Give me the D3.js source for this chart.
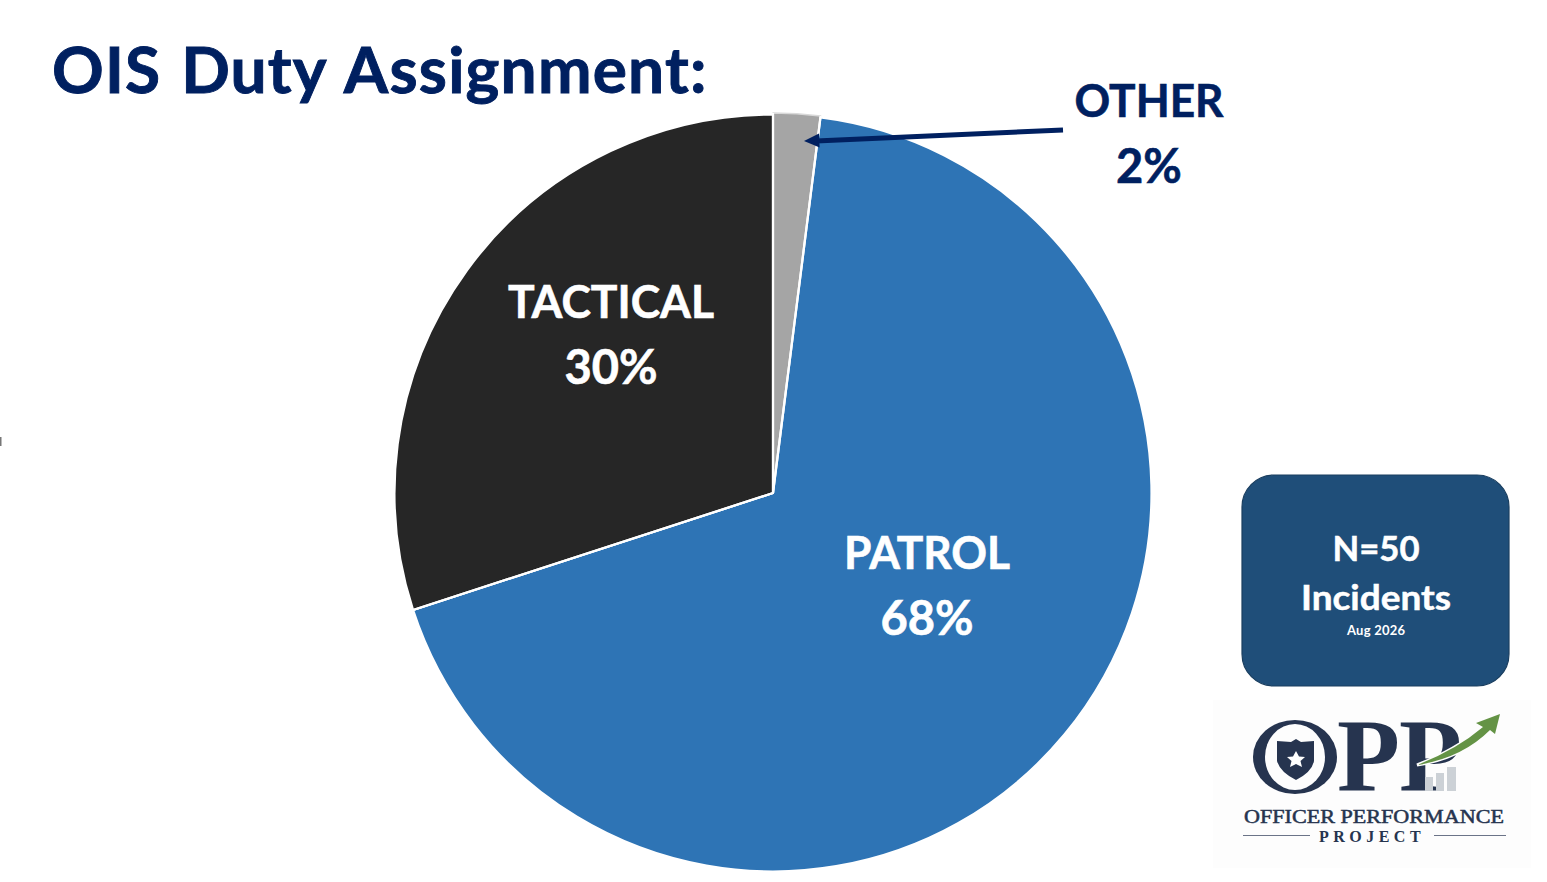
<!DOCTYPE html>
<html><head><meta charset="utf-8">
<script src="https://cdnjs.cloudflare.com/ajax/libs/d3/7.8.5/d3.min.js"></script>
<style>html,body{margin:0;padding:0;background:#fff;overflow:hidden}svg{display:block}
text{font-family:Lato,"Open Sans",sans-serif}</style></head><body>
<script>
const categories = ["OTHER","PATROL","TACTICAL"];
const percents = [2,68,30];
const colors = ["#a5a5a5","#2e74b5","#262626"];
const titleText = "OIS Duty Assignment:";
const noteLines = ["N=50","Incidents"];
const noteDate = "Aug 2026";

const W=1547,H=882,cx=773,cy=493,R=378;
const navy="#002060";
const svg=d3.select("body").append("svg").attr("width",W).attr("height",H);
svg.append("text").attr("x",52).attr("y",93).attr("font-size",64).attr("font-weight",700).attr("fill",navy)
 .attr("stroke",navy).attr("stroke-width",0.9).attr("letter-spacing",1.2).attr("word-spacing",3).text(titleText);

const pie=d3.pie().sort(null).value(d=>d)(percents);
const arc=d3.arc().innerRadius(0).outerRadius((d,i)=>d.index===0?R+2:R+0.5);
const g=svg.append("g").attr("transform",`translate(${cx},${cy})`);
g.selectAll("path").data(pie).join("path").attr("d",arc)
 .attr("fill",(d,i)=>colors[i]).attr("stroke",(d,i)=>i===0?"#d9d9d9":"#fff").attr("stroke-width",(d,i)=>i===0?1.5:2.2).attr("stroke-linejoin","round");
// white dividers over the slice edges
const rad=R+2;
g.selectAll("line.div").data(pie).join("line").attr("class","div").attr("x1",0).attr("y1",0)
 .attr("x2",d=>rad*Math.sin(d.startAngle)).attr("y2",d=>-rad*Math.cos(d.startAngle)).attr("stroke","#fff").attr("stroke-width",2.2);

function label(x,y,i,fill,w){
  const t=svg.append("text").attr("text-anchor","middle").attr("font-weight",700).attr("fill",fill).attr("stroke",fill).attr("stroke-width",0.6);
  t.append("tspan").attr("x",x).attr("y",y).attr("font-size",46).attr("textLength",w).attr("lengthAdjust","spacingAndGlyphs").text(categories[i]);
  t.append("tspan").attr("x",x).attr("y",y+66).attr("font-size",47).text(percents[i]+"%");
}
label(611,318,2,"#fff",206);
label(927,569,1,"#fff",166);
label(1149,117,0,navy,149);

// leader arrow
svg.append("line").attr("x1",1063).attr("y1",130).attr("x2",816).attr("y2",141).attr("stroke",navy).attr("stroke-width",5);
svg.append("path").attr("d","M804,141 L819,133.5 L819.6,147.5 Z").attr("fill",navy);

// stray mark at left edge
svg.append("rect").attr("x",0).attr("y",437).attr("width",1.5).attr("height",9).attr("fill","#777");

// note box
svg.append("rect").attr("x",1242).attr("y",475).attr("width",267).attr("height",211).attr("rx",32)
 .attr("fill","#1f4e79").attr("stroke","#1b3f60").attr("stroke-width",1.2);
noteLines.forEach((s,i)=>svg.append("text").attr("x",1376).attr("y",[561,610][i]).attr("text-anchor","middle")
 .attr("font-size",35).attr("font-weight",700).attr("fill","#fff").attr("stroke","#fff").attr("stroke-width",0.5)
 .attr("textLength",[87,150][i]).attr("lengthAdjust","spacingAndGlyphs").text(s));
svg.append("text").attr("x",1376).attr("y",635).attr("text-anchor","middle").attr("font-size",13).attr("font-weight",700).attr("fill","#fff").attr("textLength",58).text(noteDate);

// logo
const logo=svg.append("g");
const ink="#26344f";
logo.append("rect").attr("x",1213).attr("y",700).attr("width",318).attr("height",168).attr("fill","#fdfdfd");
const serif='"Liberation Serif",serif';
const big=(x,s)=>logo.append("text").attr("x",x).attr("y",791).attr("font-size",103).attr("fill",ink).style("font-family",serif).attr("font-weight",700).text(s);
logo.append("ellipse").attr("cx",1295).attr("cy",757).attr("rx",42).attr("ry",37).attr("fill",ink);
logo.append("ellipse").attr("cx",1295).attr("cy",757).attr("rx",30).attr("ry",33).attr("fill","#fdfdfd");
big(1337,"P"); big(1399,"P");
logo.append("path").attr("d","M1296,739 L1301,742 L1314,741 L1314,761 Q1312,772 1296,780 Q1280,772 1277,761 L1277,741 L1291,742 Z").attr("fill",ink);
logo.append("path").attr("d","M1296,751 L1299,756.5 L1305,757 L1300.5,761 L1302,767 L1296,764 L1290,767 L1291.500,761 L1287,757 L1293,756.500 Z").attr("fill","#fff");
[[1425,777,8],[1436,773,8],[1447,767,9]].forEach(b=>logo.append("rect").attr("x",b[0]).attr("y",b[1]).attr("width",b[2]).attr("height",791-b[1]).attr("fill","#ccd1d6"));
const arrowD="M1417,765 Q1456,750 1483,727 L1476,723 L1500,714 L1495,734 L1490,730 Q1462,758 1417,765 Z";
logo.append("path").attr("d",arrowD).attr("fill","#fdfdfd").attr("stroke","#fdfdfd").attr("stroke-width",3);
logo.append("path").attr("d",arrowD).attr("fill","#649345");
logo.append("text").attr("x",1374).attr("y",823).attr("text-anchor","middle").attr("font-size",19).attr("fill",ink).attr("stroke",ink).attr("stroke-width",0.5).style("font-family",serif).attr("textLength",260).attr("lengthAdjust","spacingAndGlyphs").text("OFFICER PERFORMANCE");
logo.append("text").attr("x",1372).attr("y",842).attr("text-anchor","middle").attr("font-size",16).attr("font-weight",700).attr("fill",ink).style("font-family",serif).attr("letter-spacing",4.5).text("PROJECT");
[[1243,1310],[1434,1506]].forEach(a=>logo.append("line").attr("x1",a[0]).attr("x2",a[1]).attr("y1",835.5).attr("y2",835.5).attr("stroke","#6b7488").attr("stroke-width",1));
</script></body></html>
